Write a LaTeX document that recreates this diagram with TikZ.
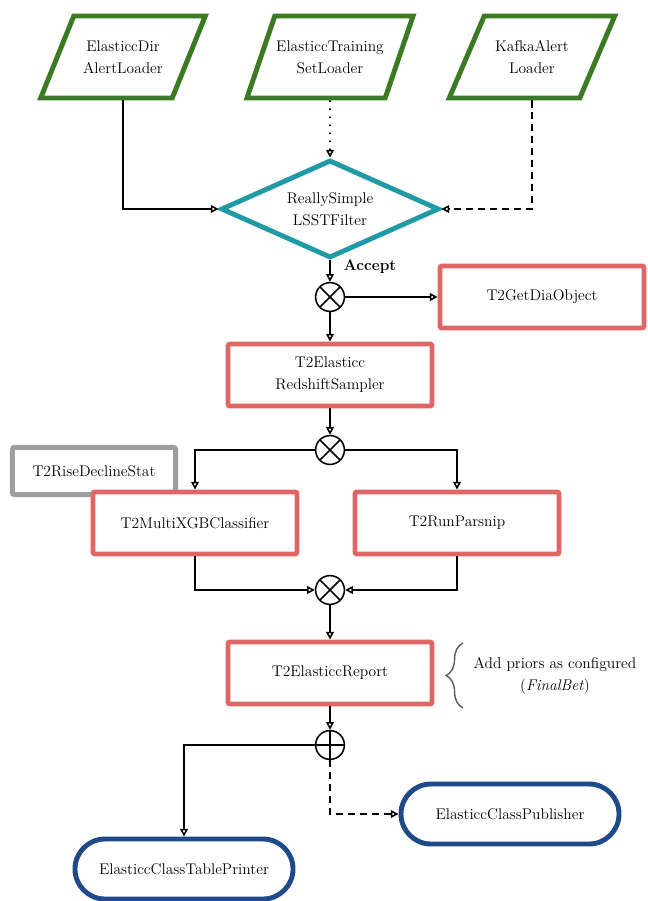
\documentclass[tikz,border=0pt]{standalone}
\usetikzlibrary{calc, positioning}
\usetikzlibrary{arrows.meta}
\usetikzlibrary{shapes.geometric}
\usetikzlibrary{decorations.pathreplacing}

\definecolor{loadgreen}{HTML}{3A7A22}
\definecolor{filterteal}{HTML}{1F9AA6}
\definecolor{unitred}{HTML}{E06666}
\definecolor{outblue}{HTML}{1F4A8A}
\definecolor{auxgray}{HTML}{9E9E9E}
\definecolor{notegray}{HTML}{5A5A5A}

\tikzset{
  every node/.style={font=\fontsize{11}{15.5}\selectfont},
  loader/.style={trapezium, trapezium left angle=52, trapezium right angle=128,
    trapezium stretches=true, draw=loadgreen, line width=3.5pt, fill=white,
    minimum width=4.15cm, minimum height=2.05cm, align=center, inner sep=1pt},
  filterbox/.style={diamond, aspect=2.2, draw=filterteal, line width=3.5pt, fill=white,
    minimum width=5.45cm, minimum height=2.45cm, align=center, inner sep=0pt},
  t2box/.style={rectangle, rounded corners=1.5pt, draw=unitred, line width=3.5pt,
    fill=white, minimum width=5.1cm, minimum height=1.55cm, align=center},
  t2aux/.style={rectangle, rounded corners=1.5pt, draw=auxgray, line width=3.5pt,
    fill=white, minimum width=4.08cm, minimum height=1.18cm},
  t3box/.style={rectangle, rounded corners=0.75cm, draw=outblue, line width=3.5pt,
    fill=white, minimum width=5.45cm, minimum height=1.5cm},
  xjunc/.style={circle, draw, line width=1.1pt, minimum size=0.72cm, inner sep=0pt,
    path picture={\draw[line width=1.1pt]
      (path picture bounding box.north west) -- (path picture bounding box.south east)
      (path picture bounding box.north east) -- (path picture bounding box.south west);}},
  pjunc/.style={circle, draw, line width=1.1pt, minimum size=0.72cm, inner sep=0pt,
    path picture={\draw[line width=1.1pt]
      (path picture bounding box.north) -- (path picture bounding box.south)
      (path picture bounding box.west) -- (path picture bounding box.east);}},
  flow/.style={line width=1.1pt, -{Triangle[open, length=5.5pt, width=5.5pt]}},
  dotflow/.style={flow, dash pattern=on 1.2pt off 4.5pt},
  dashflow/.style={flow, dash pattern=on 5pt off 3.5pt}
}

\begin{document}
\begin{tikzpicture}[x=0.025cm, y=-0.025cm]
\useasboundingbox (0,0) rectangle (648,901);

% loaders
\node[loader] (dirLoader) at (123,57) {ElasticcDir\\AlertLoader};
\node[loader] (trainLoader) at (330,57) {ElasticcTraining\\SetLoader};
\node[loader] (kafkaLoader) at (532,57) {KafkaAlert\\Loader};

% filter
\node[filterbox] (filter) at (330,209) {ReallySimple\\LSSTFilter};
\node[font=\fontsize{11}{15.5}\selectfont\bfseries] (acceptLbl) at (370,267) {Accept};

\node[xjunc] (jAccept) at (330,297) {};
\node[t2box] (getDia) at (542,297) {T2GetDiaObject};
\node[t2box] (redshift) at (330,375) {T2Elasticc\\RedshiftSampler};

\node[xjunc] (jSplit) at (330,450) {};
\node[t2aux] (riseDecline) at (94,471) {T2RiseDeclineStat};
\node[t2box] (xgb) at (195,523) {T2MultiXGBClassifier};
\node[t2box] (parsnip) at (457,523) {T2RunParsnip};

\node[xjunc] (jMerge) at (330,590) {};
\node[t2box] (report) at (330,673) {T2ElasticcReport};

% note on the report
\coordinate (braceBot) at (463,708);
\coordinate (braceTop) at (463,643);
\draw[notegray, line width=1pt, decorate, decoration={brace, amplitude=12pt}]
  (braceBot) -- (braceTop);
\node[align=center] (priorNote) at (555,676) {Add priors as configured\\(\textit{FinalBet})};

% outputs
\node[pjunc] (jOut) at (330,745) {};
\node[t3box] (publisher) at (510,814) {ElasticcClassPublisher};
\node[t3box] (tablePrinter) at (184,869) {ElasticcClassTablePrinter};

% connectors
\draw[flow] (dirLoader.south) |- (filter.west);
\draw[dotflow] (trainLoader.south) -- (filter.north);
\draw[dashflow] (kafkaLoader.south) |- (filter.east);
\draw[flow] (filter.south) -- (jAccept.north);
\draw[flow] (jAccept.east) -- (getDia.west);
\draw[flow] (jAccept.south) -- (redshift.north);
\draw[flow] (redshift.south) -- (jSplit.north);
\draw[flow] (jSplit.west) -| (xgb.north);
\draw[flow] (jSplit.east) -| (parsnip.north);
\draw[flow] (xgb.south) |- (jMerge.west);
\draw[flow] (parsnip.south) |- (jMerge.east);
\draw[flow] (jMerge.south) -- (report.north);
\draw[flow] (report.south) -- (jOut.north);
\draw[flow] (jOut.west) -| (tablePrinter.north);
\draw[dashflow] (jOut.south) |- (publisher.west);
\end{tikzpicture}
\end{document}
